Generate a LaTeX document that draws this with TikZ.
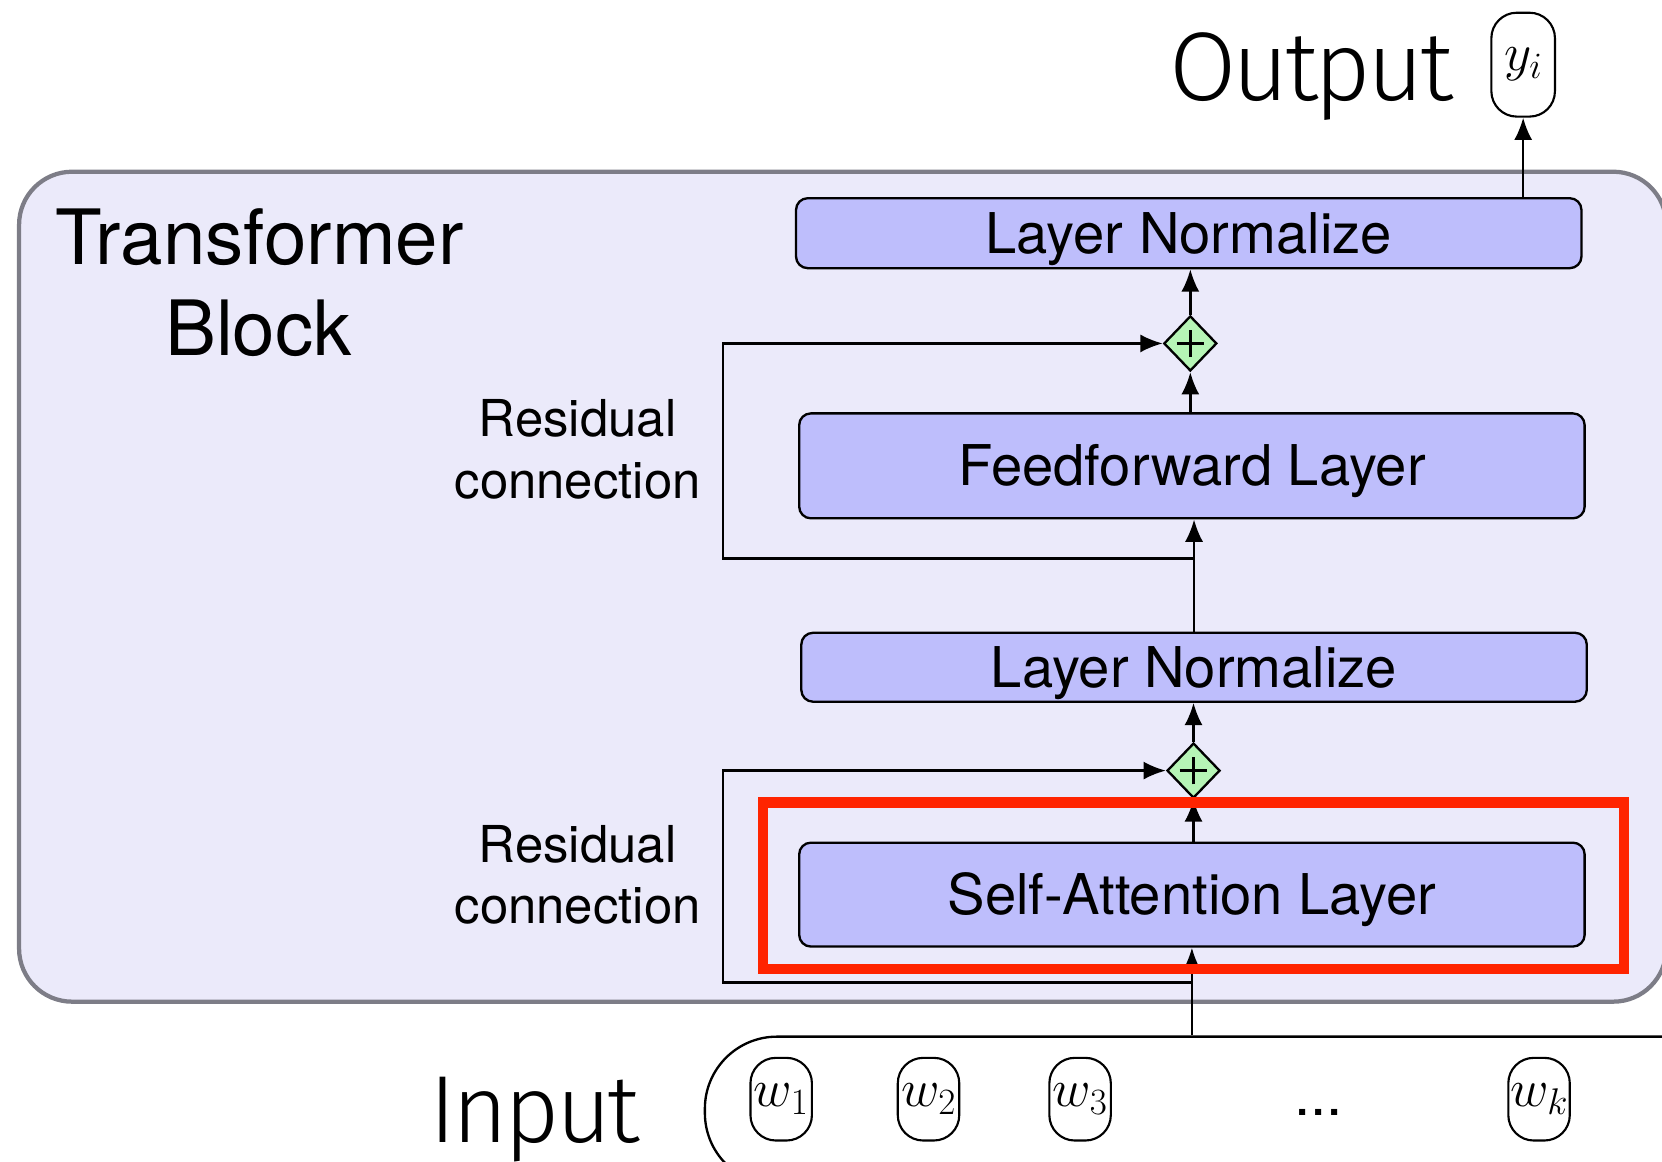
\RequirePackage{fix-cm}
\documentclass[tikz,border=0pt]{standalone}
\usepackage{fontspec}
\setmainfont{TeX Gyre Heros}
\newfontfamily\lightfont[LetterSpace=-4]{Fira Sans Light}
\usetikzlibrary{arrows.meta,shapes.geometric}
\definecolor{blockfill}{RGB}{235,234,250}
\definecolor{blockedge}{RGB}{125,125,135}
\definecolor{layerfill}{RGB}{190,190,252}
\definecolor{addfill}{RGB}{182,245,182}
\definecolor{hilite}{RGB}{255,36,0}
\begin{document}
\begin{tikzpicture}[x=1pt,y=-1pt,
  conn/.style={line width=2.2pt,-{Latex[length=21pt,width=17pt]}},
  layer/.style={draw,line width=2.2pt,fill=layerfill,rounded corners=11pt,inner sep=0pt,
    minimum width=741pt,font=\fontsize{53}{62}\selectfont,text height=38pt,text depth=0pt},
  addop/.style={diamond,draw,line width=2.2pt,fill=addfill,inner sep=0pt,
    minimum width=50pt,minimum height=52pt,
    path picture={\draw[line width=3.2pt]
      ([xshift=-13pt]path picture bounding box.center) -- ([xshift=13pt]path picture bounding box.center)
      ([yshift=-13pt]path picture bounding box.center) -- ([yshift=13pt]path picture bounding box.center);}},
  token/.style={draw,line width=2pt,rounded corners=24pt,inner sep=0pt,
    minimum width=58pt,minimum height=78pt,font=\fontsize{50}{60}\selectfont},
  sidetext/.style={inner sep=0pt,anchor=base,font=\fontsize{48}{56}\selectfont},
  titletext/.style={inner sep=0pt,anchor=base,font=\fontsize{72}{84}\selectfont},
  bigtext/.style={inner sep=0pt,anchor=base west,font=\lightfont\fontsize{92}{110}\selectfont}
]
\useasboundingbox (0,0) rectangle (1568,1096);
\clip (0,0) rectangle (1568,1096);

% transformer block frame
\node[draw=blockedge,line width=4pt,fill=blockfill,rounded corners=50pt,
      minimum width=1554pt,minimum height=783pt] (block) at (795,553.5) {};
\node[titletext] (tb1) at (245,250) {Transformer};
\node[titletext] (tb2) at (244,335) {Block};

% layers
\node[layer,minimum height=66pt] (ln1) at (1121.5,220) {Layer Normalize};
\node[layer,minimum height=99pt] (ff)  at (1124.5,439.5) {Feedforward Layer};
\node[layer,minimum height=65pt] (ln2) at (1126.5,629.5) {Layer Normalize};
\node[layer,minimum height=98pt] (sa)  at (1124.5,844) {Self-Attention Layer};

% residual additions
\node[addop] (d1) at (1123,324) {};
\node[addop] (d2) at (1126,727) {};

\node[sidetext] (rc1a) at (545,412) {Residual};
\node[sidetext] (rc1b) at (545,470) {connection};
\node[sidetext] (rc2a) at (545,814) {Residual};
\node[sidetext] (rc2b) at (545,871) {connection};

% output
\node[bigtext] (outlbl) at (1103,95) {Output};
\node[token,minimum height=98pt,minimum width=60pt] (yi) at (1437,61) {$y_i$};

% input sequence
\node[draw,line width=2.2pt,rounded corners=68pt,minimum width=975pt,minimum height=140pt] (inp) at (1152.5,1048) {};
\node[bigtext,font=\lightfont\fontsize{90}{108}\selectfont] (inlbl) at (405,1078) {Input};
\node[token] (w1) at (737,1037) {$w_1$};
\node[token] (w2) at (876,1037) {$w_2$};
\node[token] (w3) at (1019,1037) {$w_3$};
\node[inner sep=0pt,font=\fontsize{55}{60}\selectfont] (dots) at (1244,1050) {...};
\node[token] (wk) at (1452,1037) {$w_k$};

% main flow
\draw[conn] (sa.south |- inp.north) -- (sa.south);
\draw[conn] (d2.south |- sa.north) -- (d2.south);
\draw[conn] (d2.north) -- (d2.north |- ln2.south);
\draw[conn] (ln2.north) -- (ln2.north |- ff.south);
\draw[conn] (d1.south |- ff.north) -- (d1.south);
\draw[conn] (d1.north) -- (d1.north |- ln1.south);
\draw[conn] (yi.south |- ln1.north) -- (yi.south);

% residual branches
\coordinate (r1) at (1126,527);
\coordinate (k1) at (682,527);
\draw[conn] (r1) -- (k1) |- (d1.west);
\coordinate (r2) at (1124.5,927);
\coordinate (k2) at (682,927);
\draw[conn] (r2) -- (k2) |- (d2.west);

% highlight around the attention layer
\node[draw=hilite,line width=10pt,minimum width=812pt,minimum height=157pt] (focus) at (1126,835.5) {};
\end{tikzpicture}
\end{document}
